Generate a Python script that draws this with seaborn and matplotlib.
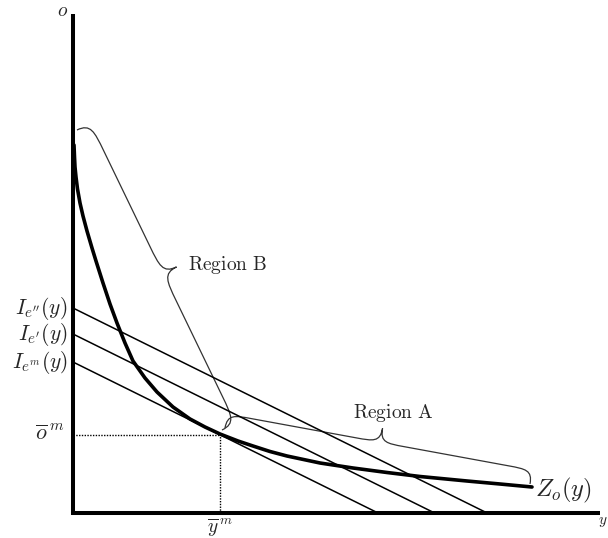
import numpy as np
import matplotlib
matplotlib.use("Agg")
import matplotlib.pyplot as plt
from matplotlib.path import Path
from matplotlib.patches import PathPatch
import seaborn as sns

sns.set_theme(style="white")
plt.rcParams["mathtext.fontset"] = "cm"
plt.rcParams["font.family"] = ["DejaVu Serif"]

# ---- data (units: arbitrary, origin at axes corner) ----
curve_x = [1, 1.5, 2, 3, 4.5, 7, 10, 14, 19, 23, 30, 37, 44, 52, 60, 72, 84, 100,
           117, 132, 147, 165, 180, 197, 214, 247, 280, 314, 347, 394, 427, 459]
curve_y = [368, 356, 346, 336, 324, 310, 297, 282, 265, 252, 230, 209, 190, 170,
           152, 135, 121, 106, 94, 86, 79, 72, 67, 61.5, 57, 50, 45, 40.5, 36.5,
           32, 29, 26]

budget_labels = [r"$I_{e''}(y)$", r"$I_{e'}(y)$", r"$I_{e^m}(y)$"]
budget_intercepts = [205, 179, 151]
budget_slope = -0.495

y_m, o_m = 147, 78           # tangency point
axis_x_max, axis_y_max = 527, 499

# ---- figure ----
fig = plt.figure(figsize=(6.08, 5.38), dpi=100)
ax = fig.add_axes([0, 0, 1, 1])
ax.set_xlim(-73, 535)
ax.set_ylim(-25, 513)
ax.axis("off")

# axes
ax.plot([0, 0], [-1.5, axis_y_max], color="black", lw=2.9, solid_capstyle="butt")
ax.plot([-1.5, axis_x_max], [0, 0], color="black", lw=2.9, solid_capstyle="butt")

# budget lines
for lab, b in zip(budget_labels, budget_intercepts):
    xs = np.array([0.0, -b / budget_slope])
    sns.lineplot(x=xs, y=b + budget_slope * xs, ax=ax, color="black", lw=1.1,
                 sort=False, estimator=None)
    ax.text(-5, b, lab, ha="right", va="center", fontsize=15.5)

# Z_o(y) curve
sns.lineplot(x=curve_x, y=curve_y, ax=ax, color="black", lw=2.6, sort=False,
             estimator=None)
ax.text(curve_x[-1] + 3, curve_y[-1] - 3, r"$Z_o(y)$", ha="left", va="center",
        fontsize=17.5)

# dotted guides
ax.plot([0, y_m], [o_m, o_m], color="black", lw=1.0, ls=(0, (1, 1)))
ax.plot([y_m, y_m], [0, o_m], color="black", lw=1.0, ls=(0, (1, 1)))
ax.text(-9, o_m + 1, r"$\overline{o}^{\,m}$", ha="right", va="center", fontsize=16)
ax.text(y_m, -3, r"$\overline{y}^{\,m}$", ha="center", va="top", fontsize=14)

# axis labels
ax.text(-10, 502, r"$o$", ha="center", va="center", fontsize=14)
ax.text(535, -9, r"$y$", ha="right", va="center", fontsize=11)


def brace(p1, p2, h, q):
    p1 = np.asarray(p1, float)
    p2 = np.asarray(p2, float)
    d = p2 - p1
    L = np.hypot(*d)
    d = d / L
    n = np.array([-d[1], d[0]])
    m = L / 2
    local = [
        (0, 0), (0, h), (0.3 * q, h), (q, h),
        (m - q, h),
        (m - 0.3 * q, h), (m, h), (m, 2 * h),
        (m, h), (m + 0.3 * q, h), (m + q, h),
        (L - q, h),
        (L - 0.3 * q, h), (L, h), (L, 0),
    ]
    codes = [Path.MOVETO, Path.CURVE4, Path.CURVE4, Path.CURVE4,
             Path.LINETO,
             Path.CURVE4, Path.CURVE4, Path.CURVE4,
             Path.CURVE4, Path.CURVE4, Path.CURVE4,
             Path.LINETO,
             Path.CURVE4, Path.CURVE4, Path.CURVE4]
    verts = [p1 + u * d + v * n for u, v in local]
    ax.add_patch(PathPatch(Path(verts, codes), fill=False, ec="#333333", lw=0.9))


brace((4, 383), (149, 83), 15, 30)
brace((152, 85), (457, 29), 14, 24)
ax.text(115, 248, r"$\mathrm{Region\ B}$", ha="left", va="center", fontsize=14)
ax.text(280, 100, r"$\mathrm{Region\ A}$", ha="left", va="center", fontsize=14)

fig.savefig("out.png", dpi=100)
